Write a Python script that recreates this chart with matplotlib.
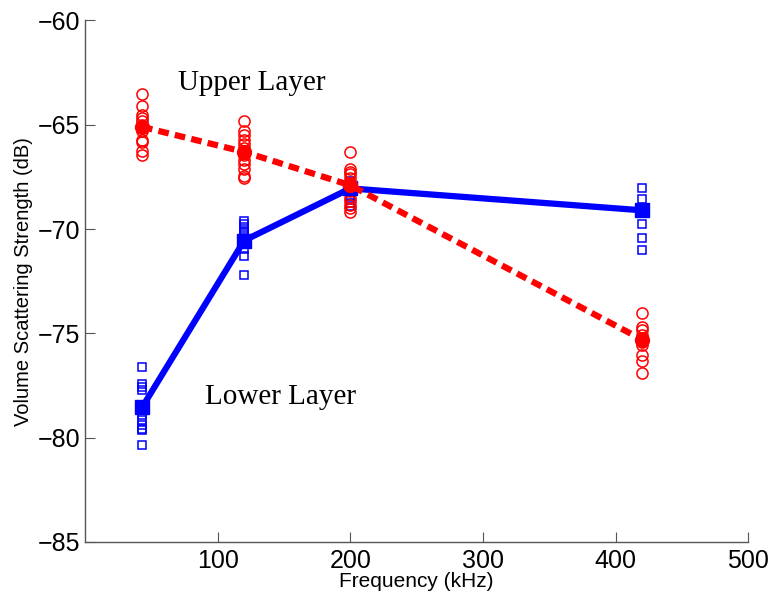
import matplotlib
matplotlib.use("Agg")
import matplotlib.pyplot as plt

freqs = [43, 120, 200, 420]

upper_mean = [-65.1, -66.3, -67.9, -75.3]
lower_mean = [-78.55, -70.55, -68.05, -69.1]

upper_pts = [
    [-63.54, -64.11, -64.52, -64.68, -64.84, -65.0, -65.32, -65.71, -65.83, -66.27, -66.46],
    [-64.84, -65.32, -65.51, -65.71, -65.92, -66.11, -66.27, -66.43, -66.67, -66.90, -67.14, -67.46, -67.57],
    [-66.30, -67.14, -67.26, -67.38, -67.54, -67.94, -68.18, -68.49, -68.65, -68.84, -68.97, -69.16],
    [-74.02, -74.69, -74.84, -75.08, -75.24, -75.40, -75.56, -76.03, -76.30, -76.88],
]
lower_pts = [
    [-76.59, -77.43, -77.57, -77.73, -78.52, -78.89, -79.16, -79.37, -79.56, -79.65, -80.35],
    [-69.60, -69.76, -69.92, -70.08, -70.21, -70.40, -70.56, -70.95, -71.30, -72.22],
    [-67.7, -67.9, -68.0, -68.2, -68.4, -68.6, -68.75, -68.9],
    [-68.02, -68.57, -69.13, -69.76, -70.45, -71.00],
]

x_ticks = [100, 200, 300, 400, 500]
y_ticks = [-85, -80, -75, -70, -65, -60]
y_tick_labels = ['\u221285', '\u221280', '\u221275', '\u221270', '\u221265', '\u221260']

plt.rcParams['font.family'] = ['Liberation Sans', 'DejaVu Sans']

fig = plt.figure(figsize=(7.74, 6.01), dpi=100)
ax = fig.add_axes([0.1098, 0.0982, 0.857, 0.8677])

for f, pts in zip(freqs, lower_pts):
    ax.plot([f] * len(pts), pts, linestyle='none', marker='s', markersize=6,
            markerfacecolor='none', markeredgecolor='#0000ff', markeredgewidth=1.1)
for f, pts in zip(freqs, upper_pts):
    ax.plot([f] * len(pts), pts, linestyle='none', marker='o', markersize=8,
            markerfacecolor='none', markeredgecolor='#ff0000', markeredgewidth=1.1)

ax.plot(freqs, lower_mean, color='#0000ff', linewidth=4.5, marker='s',
        markersize=10, markerfacecolor='#0000ff', markeredgecolor='#0000ff')
ax.plot(freqs, upper_mean, color='#ff0000', linewidth=4.5, linestyle=(0, (1.7, 1.0)),
        marker='o', markersize=10, markerfacecolor='#ff0000', markeredgecolor='#ff0000')

ax.text(70, -63.0, 'Upper Layer', family=['Liberation Serif', 'DejaVu Serif'],
        fontsize=21, va='center', ha='left')
ax.text(90.4, -78.03, 'Lower Layer', family=['Liberation Serif', 'DejaVu Serif'],
        fontsize=21, va='center', ha='left')

ax.set_xlim(0, 500)
ax.set_ylim(-85, -60)
ax.set_xticks(x_ticks)
ax.set_yticks(y_ticks)
ax.set_yticklabels(y_tick_labels)
ax.tick_params(direction='in', length=7, width=0.8, color='#555555', labelsize=18)
ax.tick_params(axis='y', pad=3.5)
ax.tick_params(axis='x', pad=5)
for s in ['top', 'right']:
    ax.spines[s].set_visible(False)
for s in ['left', 'bottom']:
    ax.spines[s].set_color('#555555')
    ax.spines[s].set_linewidth(1.0)

ax.set_xlabel('Frequency (kHz)', fontsize=15, labelpad=-1)
ax.set_ylabel('Volume Scattering Strength (dB)', fontsize=14.5, labelpad=3)

fig.savefig('out.png', dpi=100)
